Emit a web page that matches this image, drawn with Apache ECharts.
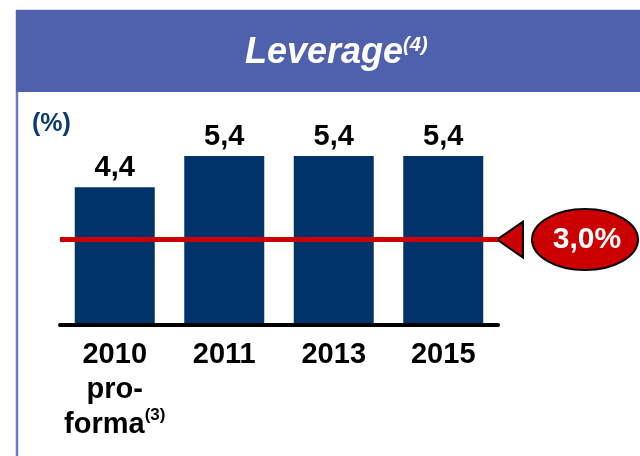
<!DOCTYPE html>
<html>
<head>
<meta charset="utf-8">
<script src="https://cdn.jsdelivr.net/npm/echarts@6/dist/echarts.min.js"></script>
<style>
html, body { margin: 0; padding: 0; background: #fff; }
#container { width: 640px; height: 456px; }
</style>
</head>
<body>
<div id="container"></div>
<script>
var categories = ['2010\npro-\nforma', '2011', '2013', '2015'];
var categoryNotes = ['(3)', '', '', ''];
var leverage = [4.4, 5.4, 5.4, 5.4];
var limitValue = 2.73;   // red line height
var limitLabel = '3,0%';

var FONT = 'Liberation Sans, Arial, sans-serif';
var gridLeft = 60;
var gridRight = 142;

var dom = document.getElementById('container');
var chart = echarts.init(dom, null, { renderer: 'canvas' });

var option = {
    animation: false,
    title: {
        text: '{main|Leverage}{sup|(4)}',
        left: 245,
        top: 35,
        padding: 0,
        textStyle: {
            rich: {
                main: {
                    fontFamily: FONT,
                    fontSize: 36,
                    fontWeight: 'bold',
                    fontStyle: 'italic',
                    color: '#fff'
                },
                sup: {
                    fontFamily: FONT,
                    fontSize: 20,
                    fontWeight: 'bold',
                    fontStyle: 'italic',
                    color: '#fff',
                    verticalAlign: 'top'
                }
            }
        }
    },
    grid: {
        left: gridLeft,
        right: gridRight,
        top: 106,
        bottom: 131,
        containLabel: false
    },
    xAxis: {
        type: 'category',
        data: categories,
        z: 5,
        axisLine: {
            lineStyle: { color: '#000', width: 4, cap: 'round' }
        },
        axisTick: { show: false },
        axisLabel: {
            interval: 0,
            margin: 12,
            fontFamily: FONT,
            fontSize: 29,
            fontWeight: 'bold',
            color: '#000',
            lineHeight: 35,
            formatter: function (value, index) {
                var note = categoryNotes[index];
                return note ? value + '{sup|' + note + '}' : value;
            },
            rich: {
                sup: {
                    fontFamily: FONT,
                    fontSize: 17,
                    fontWeight: 'bold',
                    color: '#000',
                    verticalAlign: 'top',
                    lineHeight: 35
                }
            }
        }
    },
    yAxis: {
        type: 'value',
        min: 0,
        max: 7,
        show: false
    },
    series: [
        {
            type: 'bar',
            data: leverage,
            barWidth: 80,
            itemStyle: { color: '#00336a' },
            label: {
                show: true,
                position: 'top',
                distance: 5,
                fontFamily: FONT,
                fontSize: 29,
                fontWeight: 'bold',
                color: '#000',
                formatter: function (p) {
                    return p.value.toFixed(1).replace('.', ',');
                }
            },
            markLine: {
                silent: true,
                symbol: ['none', 'none'],
                label: { show: false },
                lineStyle: { color: '#cc0000', width: 5, type: 'solid' },
                data: [{ yAxis: limitValue }]
            }
        }
    ]
};

chart.setOption(option);

// callout sits next to the end of the red line
var lineY = chart.convertToPixel({ yAxisIndex: 0 }, limitValue);
var lineEnd = 640 - gridRight;

chart.setOption({
    graphic: [
        {
            type: 'rect',
            z: -2,
            shape: { x: 17, y: 11, width: 700, height: 500 },
            style: { fill: '#fff', stroke: '#6b79c6', lineWidth: 2.5 }
        },
        {
            type: 'rect',
            z: -1,
            shape: { x: 16, y: 10, width: 640, height: 82 },
            style: { fill: '#4f60ad' }
        },
        {
            type: 'text',
            left: 32,
            top: 112,
            style: {
                text: '(%)',
                font: 'bold 25px ' + FONT,
                fill: '#0b3a6e'
            }
        },
        {
            type: 'polygon',
            shape: {
                points: [[lineEnd - 1, lineY], [lineEnd + 25, lineY - 18], [lineEnd + 25, lineY + 18]]
            },
            style: { fill: '#cc0000', stroke: '#000', lineWidth: 2 }
        },
        {
            type: 'ellipse',
            shape: { cx: lineEnd + 87, cy: lineY, rx: 53, ry: 30.5 },
            style: { fill: '#cc0000', stroke: '#000', lineWidth: 2 }
        },
        {
            type: 'text',
            x: lineEnd + 89,
            y: lineY,
            style: {
                text: limitLabel,
                font: 'bold 30px ' + FONT,
                fill: '#fff',
                align: 'center',
                verticalAlign: 'middle'
            }
        }
    ]
});

window.addEventListener('resize', chart.resize);
</script>
</body>
</html>
